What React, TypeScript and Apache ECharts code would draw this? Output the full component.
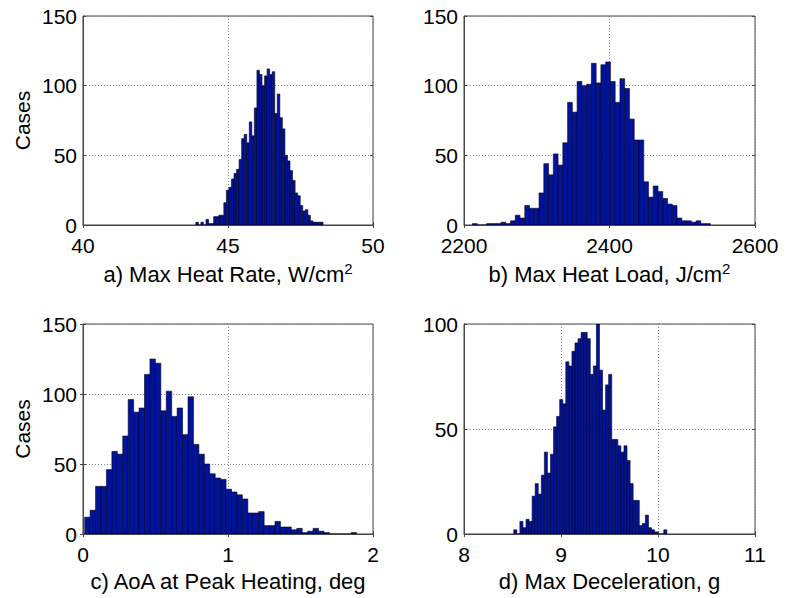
import React, { useEffect, useRef } from "react";
import * as echarts from "echarts";

// Histogram counts (50 bins each)
const heatRateCounts = [2, 0, 2, 0, 4, 1, 1, 6, 6, 7, 7, 16, 25, 27, 33, 37, 40, 47, 62, 65, 59, 74, 64, 84, 111, 108, 100, 107, 112, 108, 110, 80, 94, 77, 69, 50, 46, 39, 32, 23, 21, 14, 10, 11, 7, 3, 2, 2, 2, 2];
const heatRateStart = 43.89;
const heatRateBinWidth = 0.0878;

const heatLoadCounts = [1, 0, 0, 1, 1, 1, 2, 1, 3, 7, 5, 14, 12, 12, 23, 44, 36, 51, 43, 59, 88, 81, 103, 100, 101, 116, 102, 115, 117, 103, 88, 105, 98, 76, 61, 61, 31, 20, 28, 24, 19, 15, 14, 5, 3, 3, 2, 3, 1, 1];
const heatLoadStart = 2211.6;
const heatLoadBinWidth = 6.54;

const aoaCounts = [12, 17, 34, 34, 46, 59, 57, 70, 96, 87, 90, 114, 125, 122, 88, 102, 84, 90, 71, 98, 64, 57, 50, 43, 40, 39, 32, 30, 28, 25, 15, 15, 16, 6, 6, 9, 5, 5, 3, 4, 1, 2, 4, 2, 1, 0, 0, 0, 0, 1];
const aoaStart = 0.0117;
const aoaBinWidth = 0.0375;

const decelCounts = [2, 0, 6, 3, 7, 6, 18, 24, 19, 28, 39, 29, 38, 51, 56, 64, 62, 82, 80, 87, 91, 93, 96, 96, 93, 76, 80, 100, 78, 59, 71, 76, 45, 45, 42, 39, 42, 35, 24, 16, 16, 4, 5, 9, 3, 2, 1, 0, 0, 2];
const decelStart = 8.513;
const decelBinWidth = 0.03156;

// Axis ranges / ticks
const xRanges = [
  { min: 40, max: 50, interval: 5 },
  { min: 2200, max: 2600, interval: 200 },
  { min: 0, max: 2, interval: 1 },
  { min: 8, max: 11, interval: 1 },
];
const yRanges = [
  { min: 0, max: 150, interval: 50 },
  { min: 0, max: 150, interval: 50 },
  { min: 0, max: 150, interval: 50 },
  { min: 0, max: 100, interval: 50 },
];
const xNames = [
  "a) Max Heat Rate, W/cm{sup|2}",
  "b) Max Heat Load, J/cm{sup|2}",
  "c) AoA at Peak Heating, deg",
  "d) Max Deceleration, g",
];
const yNames = ["Cases", "", "Cases", ""];

const FONT = "'Liberation Sans', Arial, Helvetica, sans-serif";

function bins(counts: number[], start: number, w: number) {
  return counts.map((c, i) => [start + i * w, start + (i + 1) * w, c]);
}

export default function App() {
  const ref = useRef<HTMLDivElement>(null);
  useEffect(() => {
    if (!ref.current) return;
    const chart = echarts.init(ref.current, undefined, { renderer: "svg" });

    const grids = [
      { left: 83, top: 16, width: 290, height: 209 },
      { left: 464, top: 16, width: 291, height: 209 },
      { left: 83, top: 324, width: 290, height: 210 },
      { left: 464, top: 324, width: 291, height: 210 },
    ].map((g) => ({ ...g, show: true, borderColor: "#444", borderWidth: 1, backgroundColor: "#fff" }));

    const datasets = [
      bins(heatRateCounts, heatRateStart, heatRateBinWidth),
      bins(heatLoadCounts, heatLoadStart, heatLoadBinWidth),
      bins(aoaCounts, aoaStart, aoaBinWidth),
      bins(decelCounts, decelStart, decelBinWidth),
    ];

    const xAxis: any[] = [];
    const yAxis: any[] = [];
    const series: any[] = [];
    for (let i = 0; i < 4; i++) {
      xAxis.push({
        type: "value",
        gridIndex: i,
        position: "bottom",
        ...xRanges[i],
        name: xNames[i],
        nameLocation: "middle",
        nameGap: 36,
        nameTextStyle: {
          fontSize: 22,
          color: "#000",
          fontFamily: FONT,
          rich: { sup: { fontSize: 15, fontFamily: FONT, color: "#000", padding: [0, 0, 12, 0] } },
        },
        axisLine: { show: true, lineStyle: { color: "#444", width: 1 } },
        axisTick: { show: true, inside: true, length: 3, lineStyle: { color: "#444" } },
        axisLabel: {
          show: true,
          fontSize: 21,
          color: "#000",
          fontFamily: FONT,
          margin: 10,
          formatter: (v: number) => String(v),
        },
        splitLine: { show: true, lineStyle: { color: "#888", type: [1, 2], width: 1 } },
      });
      xAxis.push({
        type: "value",
        gridIndex: i,
        position: "top",
        ...xRanges[i],
        axisLine: { show: false },
        axisTick: { show: true, inside: true, length: 3, lineStyle: { color: "#444" } },
        axisLabel: { show: false },
        splitLine: { show: false },
      });
      yAxis.push({
        type: "value",
        gridIndex: i,
        position: "left",
        ...yRanges[i],
        name: yNames[i],
        nameLocation: "middle",
        nameGap: 50,
        nameTextStyle: { fontSize: 21, color: "#000", fontFamily: FONT },
        axisLine: { show: true, lineStyle: { color: "#444", width: 1 } },
        axisTick: { show: true, inside: true, length: 3, lineStyle: { color: "#444" } },
        axisLabel: {
          show: true,
          fontSize: 21,
          color: "#000",
          fontFamily: FONT,
          margin: 6,
          formatter: (v: number) => String(v),
        },
        splitLine: { show: true, lineStyle: { color: "#888", type: [1, 2], width: 1 } },
      });
      yAxis.push({
        type: "value",
        gridIndex: i,
        position: "right",
        ...yRanges[i],
        axisLine: { show: false },
        axisTick: { show: true, inside: true, length: 3, lineStyle: { color: "#444" } },
        axisLabel: { show: false },
        splitLine: { show: false },
      });
      series.push({
        type: "custom",
        xAxisIndex: 2 * i,
        yAxisIndex: 2 * i,
        data: datasets[i],
        encode: { x: [0, 1], y: 2 },
        clip: true,
        renderItem: (params: any, api: any) => {
          const x0 = api.value(0);
          const x1 = api.value(1);
          const y = api.value(2);
          const p0 = api.coord([x0, y]);
          const p1 = api.coord([x1, 0]);
          return {
            type: "rect",
            shape: { x: p0[0], y: p0[1], width: p1[0] - p0[0], height: p1[1] - p0[1] },
            style: { fill: "#00139a", stroke: "#000020", lineWidth: 0.6 },
          };
        },
      });
    }

    chart.setOption({
      animation: false,
      backgroundColor: "#fff",
      textStyle: { fontFamily: FONT },
      grid: grids,
      xAxis,
      yAxis,
      series,
    });
    return () => chart.dispose();
  }, []);
  return (
    <div
      ref={ref}
      style={{ position: "absolute", left: 0, top: 0, width: 789, height: 598, background: "#fff" }}
    />
  );
}
